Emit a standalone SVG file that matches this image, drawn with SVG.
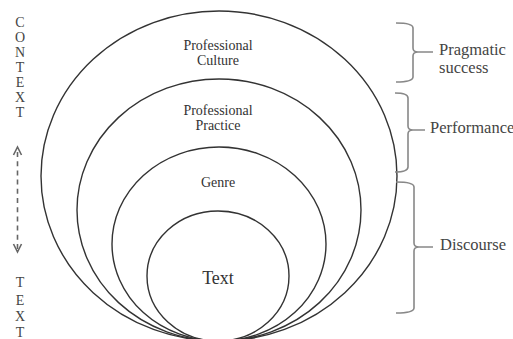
<svg xmlns="http://www.w3.org/2000/svg" width="513" height="339" viewBox="0 0 513 339">
<style>
.ring{fill:none;stroke:#333;stroke-width:1.4}
.lbl{fill:#333;text-anchor:middle}
.side{fill:#444;font-size:16.5px}
.axis{fill:#444;font-size:14px;text-anchor:middle}
.brace{fill:none;stroke:#888;stroke-width:1.6;stroke-linejoin:round}
</style>
<rect width="513" height="339" fill="#fff"/>
<g font-family="Liberation Serif, serif">
<g id="node-culture">
<ellipse class="ring" cx="219" cy="176" rx="178" ry="165"/>
<text class="lbl" x="218" y="50" font-size="14">Professional</text>
<text class="lbl" x="218" y="65" font-size="14">Culture</text>
</g>
<g id="node-practice">
<ellipse class="ring" cx="219" cy="210" rx="142" ry="131"/>
<text class="lbl" x="218" y="115" font-size="14">Professional</text>
<text class="lbl" x="218" y="130" font-size="14">Practice</text>
</g>
<g id="node-genre">
<ellipse class="ring" cx="219" cy="244" rx="107" ry="97"/>
<text class="lbl" x="218" y="187" font-size="14">Genre</text>
</g>
<g id="node-text">
<ellipse class="ring" cx="218" cy="276" rx="71" ry="65"/>
<text class="lbl" x="218" y="284" font-size="18">Text</text>
</g>
<g id="axis">
<text class="axis" x="20" y="26.7">C</text>
<text class="axis" x="20" y="41.7">O</text>
<text class="axis" x="20" y="56.7">N</text>
<text class="axis" x="20" y="71.7">T</text>
<text class="axis" x="20" y="86.7">E</text>
<text class="axis" x="20" y="101.7">X</text>
<text class="axis" x="20" y="117">T</text>
<text class="axis" x="20" y="287" font-size="19">T</text>
<text class="axis" x="20" y="305">E</text>
<text class="axis" x="20" y="320.5">X</text>
<text class="axis" x="20" y="337">T</text>
</g>
<g id="connectors">
<line x1="17.5" y1="152" x2="17.5" y2="249" stroke="#666" stroke-width="1.6" stroke-dasharray="5 4.2"/>
<polyline points="13.5,155 17.5,147 21.5,155" fill="none" stroke="#666" stroke-width="1.6"/>
<polyline points="13.5,244 17.5,252 21.5,244" fill="none" stroke="#666" stroke-width="1.6"/>
<path class="brace" d="M396,23 Q413,23 413,28 L413,48 Q413,52 418,52 L433,52 M418,52 Q413,52 413,56 L413,77 Q413,82 396,82"/>
<path class="brace" d="M395,93 Q408,93 408,98 L408,126 Q408,130 413,130 L425,130 M413,130 Q408,130 408,134 L408,167 Q408,172 395,172"/>
<path class="brace" d="M396,182 Q414,182 414,187 L414,243 Q414,247 419,247 L433,247 M419,247 Q414,247 414,251 L414,308 Q414,313 396,313"/>
</g>
<g id="labels">
<text class="side" x="439" y="55">Pragmatic</text>
<text class="side" x="439" y="73">success</text>
<text class="side" x="430" y="133">Performance</text>
<text class="side" x="440" y="250">Discourse</text>
</g>
</g>
</svg>
